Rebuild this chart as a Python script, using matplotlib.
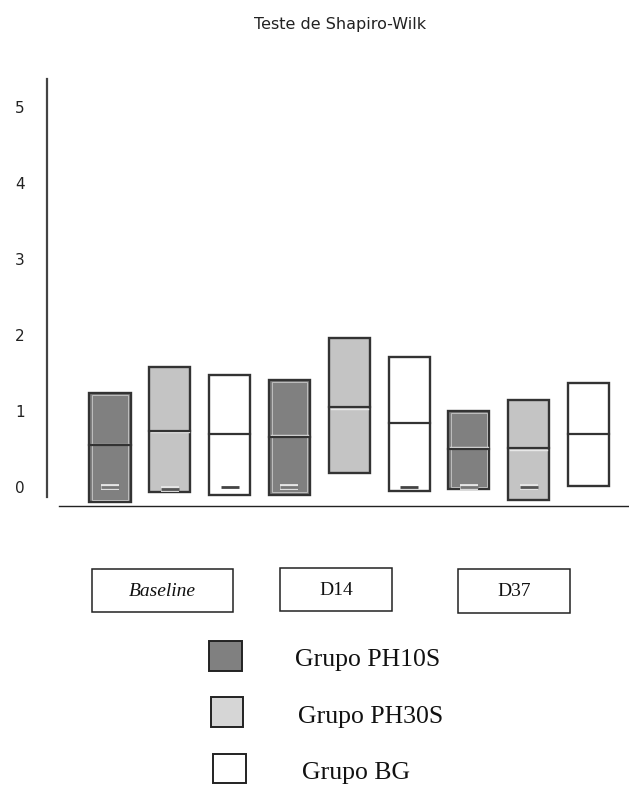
import numpy as np
import matplotlib
matplotlib.use("Agg")
import matplotlib.pyplot as plt
from matplotlib.patches import Rectangle
import matplotlib.patheffects as pe
from matplotlib.transforms import offset_copy

# ---------------- data ----------------
times = ["Baseline", "D14", "D37"]
groups = ["Grupo PH10S", "Grupo PH30S", "Grupo BG"]

ph10s_low = [-0.20, -0.10, -0.03]
ph10s_high = [1.24, 1.41, 1.00]
ph10s_median = [0.55, 0.66, 0.50]
ph10s_mark = [0.00, 0.00, 0.00]

ph30s_low = [-0.07, 0.18, -0.17]
ph30s_high = [1.58, 1.96, 1.14]
ph30s_median = [0.74, 1.05, 0.51]
ph30s_mark = [-0.02, np.nan, 0.00]

bg_low = [-0.10, -0.05, 0.01]
bg_high = [1.47, 1.71, 1.37]
bg_median = [0.70, 0.84, 0.70]
bg_mark = [0.00, 0.00, np.nan]

y_ticks = [0, 1, 2, 3, 4, 5]

# ---------------- style ----------------
colors = ["#808080", "#c4c4c4", "#ffffff"]
edge = "#333333"

W, H = 629, 794
fig = plt.figure(figsize=(W / 100, H / 100), dpi=100)

def fx(px):
    return px / W

def fy(py):
    return 1 - py / H

# axes placement in pixels: left 47, right 628, top 79, bottom 506
ax = fig.add_axes([fx(47), fy(506), (628 - 47) / W, (506 - 79) / H])
ax.set_xlim(-1.053, 8.66)
ax.set_ylim(-0.25, 5.37)

for s in ["top", "right"]:
    ax.spines[s].set_visible(False)
ax.spines["left"].set_bounds(-0.13, 5.37)
ax.spines["left"].set_color("#444444")
ax.spines["left"].set_linewidth(1.6)
ax.spines["bottom"].set_bounds(-0.853, 8.66)
ax.spines["bottom"].set_color("#222222")
ax.spines["bottom"].set_linewidth(1.0)

ax.set_xticks([])
ax.set_yticks(y_ticks)
ax.set_yticklabels([str(t) for t in y_ticks], fontsize=11, color="#222222",
                   family="DejaVu Sans")
ax.tick_params(axis="y", length=0, pad=16)

lows = [ph10s_low, ph30s_low, bg_low]
highs = [ph10s_high, ph30s_high, bg_high]
meds = [ph10s_median, ph30s_median, bg_median]
marks = [ph10s_mark, ph30s_mark, bg_mark]

bw = 0.686
up = offset_copy(ax.transData, fig=fig, x=0, y=1.6, units="dots")
dn = offset_copy(ax.transData, fig=fig, x=0, y=-1.6, units="dots")

for ti in range(len(times)):
    for gi in range(len(groups)):
        x = ti * 3 + gi
        lo, hi, md, mk = lows[gi][ti], highs[gi][ti], meds[gi][ti], marks[gi][ti]
        ax.bar(x, hi - lo, bottom=lo, width=bw, color=colors[gi],
               edgecolor=edge, linewidth=1.7, zorder=2)
        if gi == 0:
            # inner light bevel
            ax.add_patch(Rectangle((x - bw / 2 + 0.045, lo + 0.03), bw - 0.09,
                                   hi - lo - 0.06, fill=False,
                                   edgecolor="#c8c8c8", linewidth=0.6, zorder=3))
            ax.plot([x - bw / 2 + 0.03, x + bw / 2 - 0.03], [md, md], color="#e0e0e0",
                    lw=1.0, transform=up, zorder=4)
        elif gi == 1:
            ax.plot([x - bw / 2 + 0.03, x + bw / 2 - 0.03], [md, md], color="#e8e8e8",
                    lw=1.0, transform=dn, zorder=4)
        ax.plot([x - bw / 2, x + bw / 2], [md, md], color=edge, lw=1.6, zorder=5)
        if not np.isnan(mk):
            dash_col = ["#777777", "#555555", "#444444"][gi]
            effects = [pe.Stroke(linewidth=4.2, foreground="#e6e6e6"), pe.Normal()] if gi < 2 else None
            ax.plot([x - 0.15, x + 0.15], [mk, mk], color=dash_col, lw=2.0,
                    solid_capstyle="butt", zorder=6, path_effects=effects)

# title
fig.text(fx(340), fy(25), "Teste de Shapiro-Wilk", ha="center", va="center",
         fontsize=11.5, family="DejaVu Sans", color="#222222")

# category label boxes
cat_boxes = [(92, 569, 233, 612), (280, 568, 392, 611), (458, 569, 570, 613)]
for (x0, y0, x1, y1), lab in zip(cat_boxes, times):
    fig.patches.append(Rectangle((fx(x0), fy(y1)), fx(x1 - x0), (y1 - y0) / H,
                                 transform=fig.transFigure, fill=False,
                                 edgecolor="#222222", linewidth=1.1))
    fig.text(fx((x0 + x1) / 2), fy((y0 + y1) / 2 + 1), lab, ha="center", va="center",
             fontsize=14, family="Liberation Serif",
             style="italic" if lab == "Baseline" else "normal", color="#111111")

# legend
leg_sq = [(209, 641, 242, 671), (211, 697, 243, 727), (213, 754, 246, 783)]
leg_tx = [(295, 660), (298, 717), (302, 773)]
leg_face = ["#808080", "#d6d6d6", "#ffffff"]
for (x0, y0, x1, y1), (tx, ty), lab, fc in zip(leg_sq, leg_tx, groups, leg_face):
    fig.patches.append(Rectangle((fx(x0), fy(y1)), fx(x1 - x0), (y1 - y0) / H,
                                 transform=fig.transFigure, facecolor=fc,
                                 edgecolor="#222222", linewidth=1.4))
    fig.text(fx(tx), fy(ty), lab, ha="left", va="center", fontsize=18.5,
             family="Liberation Serif", color="#111111")

fig.savefig("out.png", dpi=100)
